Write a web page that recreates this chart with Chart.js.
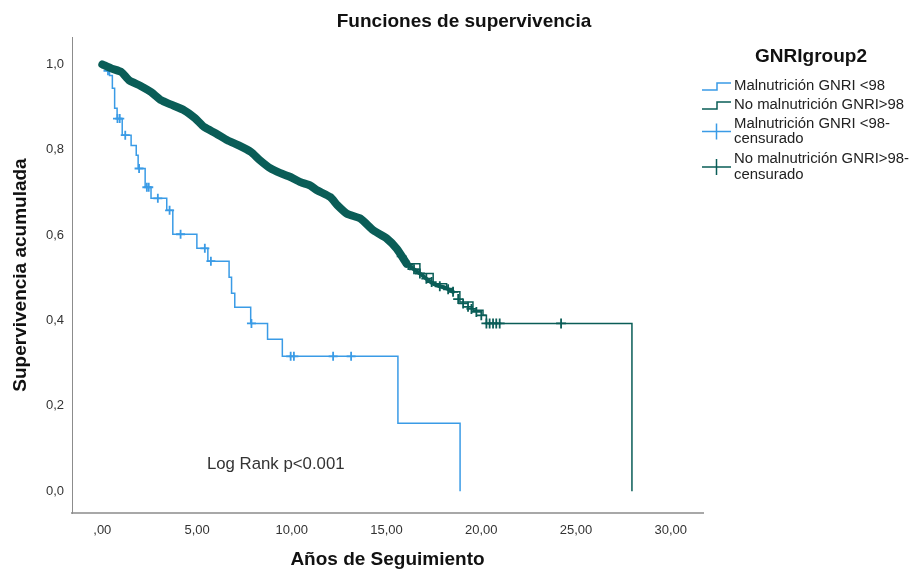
<!DOCTYPE html>
<html lang="es">
<head>
<meta charset="UTF-8">
<title>Funciones de supervivencia</title>
<script src="https://cdn.jsdelivr.net/npm/chart.js@4"></script>
<style>
  body { margin: 0; background: #fff; }
  canvas { display: block; }
</style>
</head>
<body>
<canvas id="km" width="913" height="571"></canvas>
<script>
// ---- datos ----
// Malnutricion GNRI <98 : tiempos de evento y supervivencia
const blueTimes = [0, 0.25, 0.38, 0.53, 0.65, 0.78, 1.05, 1.52, 1.79, 1.89, 2.26, 2.57, 3.40, 3.72, 4.99, 5.57, 6.69, 6.82, 6.99, 7.83, 8.72, 9.50, 15.60, 18.88];
const blueSurv  = [1.000, 0.985, 0.974, 0.944, 0.897, 0.873, 0.834, 0.810, 0.787, 0.756, 0.712, 0.686, 0.658, 0.602, 0.569, 0.539, 0.501, 0.464, 0.431, 0.393, 0.356, 0.316, 0.159, 0.000];
// censurados
const blueCensTimes = [0.30, 0.80, 0.92, 1.21, 1.94, 2.35, 2.45, 2.93, 3.55, 4.13, 5.41, 5.73, 7.87, 9.94, 10.11, 12.18, 13.13];
const blueCensSurv  = [0.985, 0.873, 0.873, 0.834, 0.756, 0.712, 0.712, 0.686, 0.658, 0.602, 0.569, 0.539, 0.393, 0.316, 0.316, 0.316, 0.316];

// No malnutricion GNRI>98
const greenTimes = [0, 0.5, 1.0, 1.43, 2.0, 2.57, 3.1, 3.6, 4.33, 4.89, 5.38, 6.0, 6.6, 7.2, 7.83, 8.3, 8.88, 9.4, 9.93, 10.46, 10.98, 11.33, 12.03, 12.4, 12.91, 13.61, 14.31, 15.01, 15.54, 16.06, 16.76, 17.46, 18.17, 18.51, 18.87, 19.56, 20.09, 20.27, 27.95];
const greenSurv  = [1.000, 0.990, 0.982, 0.962, 0.950, 0.935, 0.916, 0.906, 0.892, 0.874, 0.853, 0.838, 0.822, 0.810, 0.795, 0.776, 0.756, 0.745, 0.736, 0.724, 0.716, 0.705, 0.689, 0.670, 0.650, 0.639, 0.611, 0.592, 0.568, 0.533, 0.510, 0.486, 0.475, 0.467, 0.443, 0.424, 0.412, 0.393, 0.000];
const greenCensTimes = [15.80, 16.15, 16.45, 16.76, 17.10, 17.38, 17.81, 18.25, 18.51, 18.78, 19.04, 19.30, 19.48, 19.74, 20.00, 20.27, 20.44, 20.62, 20.79, 20.97, 24.21];
const greenCensSurv  = [0.550, 0.530, 0.520, 0.510, 0.498, 0.490, 0.480, 0.473, 0.467, 0.450, 0.440, 0.432, 0.427, 0.420, 0.412, 0.393, 0.393, 0.393, 0.393, 0.393, 0.393];
// hasta donde las marcas de censura forman una banda continua
const greenBandEnd = 16.06;
const greenThinBandEnd = 18.51;

const xTicks = [0, 5, 10, 15, 20, 25, 30];
const xTickLabels = [',00', '5,00', '10,00', '15,00', '20,00', '25,00', '30,00'];
const yTicks = [0, 0.2, 0.4, 0.6, 0.8, 1.0];
const yTickLabels = ['0,0', '0,2', '0,4', '0,6', '0,8', '1,0'];

const legendTitle = 'GNRIgroup2';
const legendLabels = [['Malnutrición GNRI <98'], ['No malnutrición GNRI>98'], ['Malnutrición GNRI <98-', 'censurado'], ['No malnutrición GNRI>98-', 'censurado']];

const BLUE = '#3a9be6';
const GREEN = '#0a5d57';
const FONT = "'Liberation Sans', Arial, sans-serif";

const pts = (xs, ys) => xs.map((x, i) => ({ x: x, y: ys[i] }));
const greenPts = pts(greenTimes, greenSurv);

// textos y leyenda dibujados sobre el canvas
const extras = {
  id: 'extras',
  afterDraw(chart) {
    const c = chart.ctx;
    const sx = chart.scales.x, sy = chart.scales.y;
    c.save();
    c.fillStyle = '#111';
    c.textBaseline = 'middle';
    c.textAlign = 'center';
    c.font = 'bold 19px ' + FONT;
    c.fillText('Funciones de supervivencia', 464, 22);

    c.textAlign = 'left';
    c.fillStyle = '#333';
    c.font = '16.8px ' + FONT;
    c.fillText('Log Rank p<0.001', sx.getPixelForValue(5.52), sy.getPixelForValue(0.063));

    // leyenda
    c.fillStyle = '#111';
    c.textAlign = 'center';
    c.font = 'bold 19px ' + FONT;
    c.fillText(legendTitle, 811, 57);

    c.textAlign = 'left';
    c.font = '14.9px ' + FONT;
    c.fillStyle = '#222';
    const rows = [[86], [105], [124, 139], [159, 175]];
    const colors = [BLUE, GREEN, BLUE, GREEN];
    rows.forEach((ys, i) => {
      legendLabels[i].forEach((t, j) => c.fillText(t, 734, ys[j]));
      c.strokeStyle = colors[i];
      c.lineWidth = 1.5;
      c.beginPath();
      if (i < 2) {
        const y = ys[0];
        c.moveTo(702, y + 4); c.lineTo(717, y + 4); c.lineTo(717, y - 3); c.lineTo(731, y - 3);
      } else {
        const y = (ys[0] + ys[1]) / 2;
        c.moveTo(702, y); c.lineTo(731, y);
        c.moveTo(716.5, y - 8); c.lineTo(716.5, y + 8);
      }
      c.stroke();
    });
    c.restore();
  }
};

new Chart(document.getElementById('km'), {
  type: 'line',
  data: {
    datasets: [
      {
        // banda de censuras densas
        data: greenPts.filter(p => p.x <= greenBandEnd),
        borderColor: GREEN, borderWidth: 8, pointRadius: 0,
        borderCapStyle: 'round', borderJoinStyle: 'round', tension: 0.2
      },
      {
        data: greenPts.filter(p => p.x >= greenBandEnd - 1 && p.x <= greenThinBandEnd),
        borderColor: GREEN, borderWidth: 4, pointRadius: 0,
        borderCapStyle: 'round', borderJoinStyle: 'round', tension: 0.2
      },
      {
        data: greenPts.filter(p => p.x >= greenBandEnd),
        borderColor: GREEN, borderWidth: 1.5, pointRadius: 0, stepped: 'before'
      },
      {
        data: pts(greenCensTimes, greenCensSurv), showLine: false,
        pointStyle: 'cross', pointRadius: 5, borderColor: GREEN, borderWidth: 1.8
      },
      {
        data: pts(blueTimes, blueSurv),
        borderColor: BLUE, borderWidth: 1.5, pointRadius: 0, stepped: 'before'
      },
      {
        data: pts(blueCensTimes, blueCensSurv), showLine: false,
        pointStyle: 'cross', pointRadius: 4.5, borderColor: BLUE, borderWidth: 1.8
      }
    ]
  },
  options: {
    responsive: false,
    animation: false,
    layout: { padding: { left: 0, right: 210, top: 37, bottom: 0 } },
    plugins: { legend: { display: false }, title: { display: false }, tooltip: { enabled: false } },
    scales: {
      x: {
        type: 'linear', min: -1.6, max: 31.7,
        afterBuildTicks: s => { s.ticks = xTicks.map(v => ({ value: v })); },
        afterFit: s => { s.height = 58; },
        grid: { display: false, drawTicks: false },
        border: { color: '#a8a8a8', width: 2 },
        ticks: {
          padding: 10, color: '#333', font: { family: FONT, size: 13 },
          callback: v => xTickLabels[xTicks.indexOf(v)]
        },
        title: {
          display: true, text: 'Años de Seguimiento', color: '#111',
          font: { family: FONT, size: 19, weight: 'bold' }, padding: { top: 0, bottom: 0 }
        }
      },
      y: {
        type: 'linear', min: -0.051, max: 1.064,
        afterBuildTicks: s => { s.ticks = yTicks.map(v => ({ value: v })); },
        afterFit: s => { s.width = 72; },
        grid: { display: false, drawTicks: false },
        border: { color: '#8c8c8c', width: 1 },
        ticks: {
          padding: 8, color: '#333', font: { family: FONT, size: 13 },
          callback: v => yTickLabels[yTicks.indexOf(v)]
        },
        title: {
          display: true, text: 'Supervivencia acumulada', color: '#111',
          font: { family: FONT, size: 19, weight: 'bold' }, padding: { top: 9, bottom: 0 }
        }
      }
    }
  },
  plugins: [extras]
});
</script>
</body>
</html>
